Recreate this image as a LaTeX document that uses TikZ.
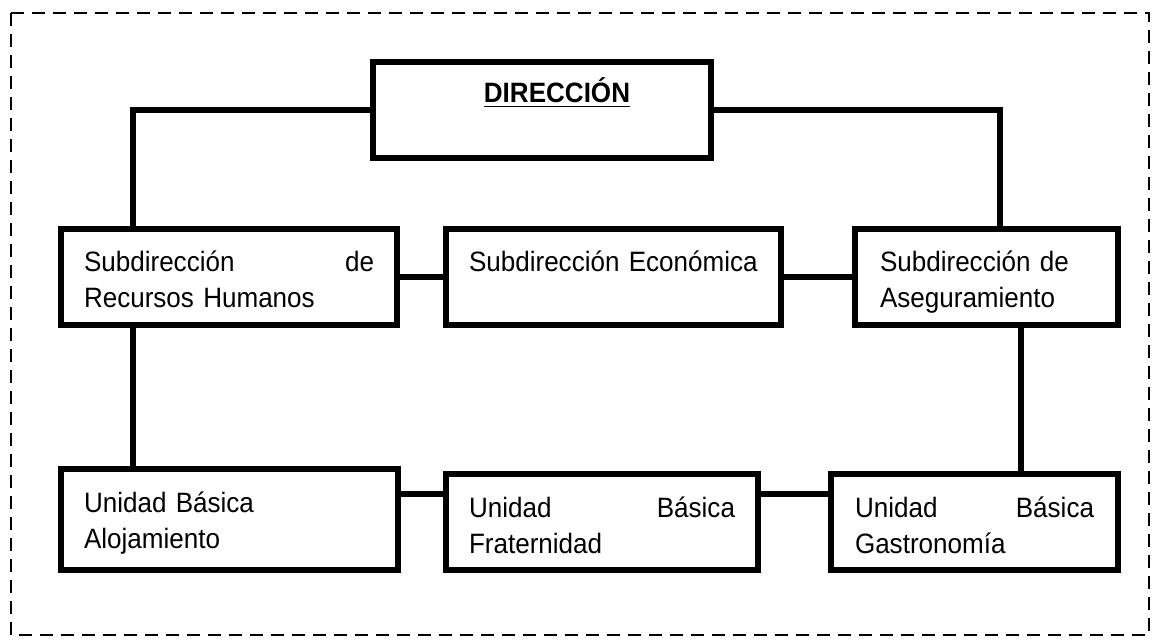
\documentclass[tikz,border=0pt]{standalone}
\usepackage{fontspec}
\setmainfont{Liberation Sans}[FakeStretch=0.93]
\usetikzlibrary{calc}
\tikzset{
	orgbox/.style={
			draw, rectangle, line width=3pt, anchor=north west,
			inner ysep=0pt, inner xsep=11.5pt, outer sep=0pt, align=left,
			text height=21.5pt, text depth=26.5pt,
			font=\fontsize{14pt}{18pt}\selectfont
		},
	link/.style={line width=3pt},
	frame/.style={line width=1pt, dash pattern=on 6.5pt off 4pt}
}

\begin{document}
\begin{tikzpicture}[x=0.5pt, y=-0.5pt]
		\useasboundingbox (0,0) rectangle (1156,641);
		\draw[frame] (11,13) rectangle (1149,635);

		\node[orgbox, align=center, inner xsep=0pt, text width=169pt, text height=20.5pt, text depth=27.5pt] (dir) at (373,62) {\hspace*{15pt}\textbf{\underline{DIRECCIÓN}}};

		\node[orgbox, text width=145pt] (rh) at (61,229) {Subdirección\hfill de\\Recursos Humanos};
		\node[orgbox, text width=144.5pt] (eco) at (446,229) {Subdirección Económica};
		\node[orgbox, inner xsep=12.5pt, text width=106.5pt] (ase) at (855,229) {Subdirección de\\Aseguramiento};

		\node[orgbox, text width=145.5pt, text depth=29pt] (alo) at (61,469) {Unidad Básica\\Alojamiento};
		\node[orgbox, text width=133pt] (fra) at (446,474) {Unidad\hfill Básica\\Fraternidad};
		\node[orgbox, inner xsep=12pt, text width=119.5pt] (gas) at (831,474) {Unidad\hfill Básica\\Gastronomía};

		% top level
		\draw[link] (dir.west) -| ($(rh.north west)+(72,0)$);
		\draw[link] (dir.east) -| ($(ase.north west)+(145,0)$);

		% middle row
		\draw[link] (rh.east) -- (eco.west);
		\draw[link] (eco.east) -- (ase.west);

		\draw[link] ($(rh.south west)+(72,0)$) coordinate (rhdown) -- (rhdown |- alo.north);
		\draw[link] ($(ase.south west)+(166,0)$) coordinate (asedown) -- (asedown |- gas.north);

		% bottom row
		\draw[link] ($(alo.north east)+(0,25)$) coordinate (alojoin) -- (alojoin -| fra.west);
		\draw[link] ($(fra.north east)+(0,20)$) coordinate (frajoin) -- (frajoin -| gas.west);
	\end{tikzpicture}
\end{document}
